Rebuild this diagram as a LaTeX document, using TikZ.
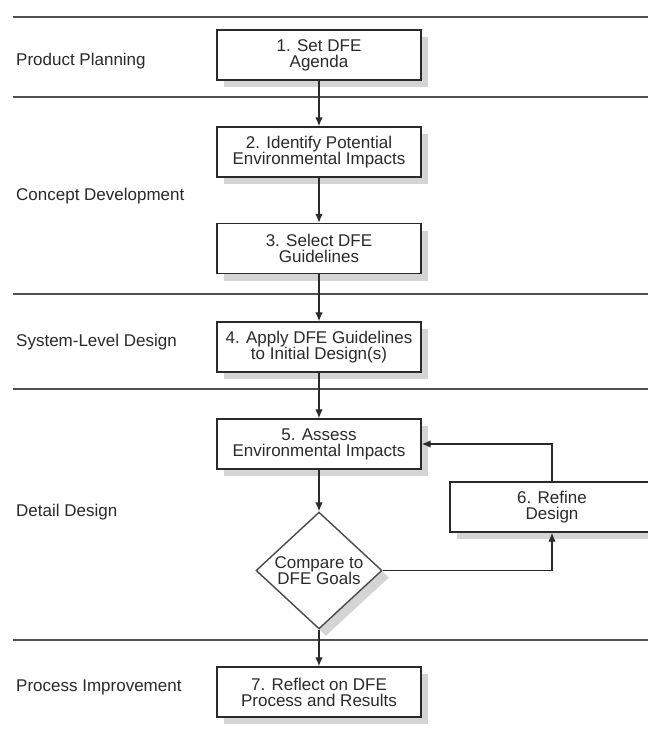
\documentclass[tikz,border=0pt]{standalone}
\usepackage{fontspec}
\setmainfont{Liberation Sans}
\usetikzlibrary{shapes.geometric,shadows,arrows.meta}
\definecolor{ink}{HTML}{2A2A2A}
\definecolor{rulec}{HTML}{505050}
\definecolor{shade}{HTML}{D4D4D4}
\begin{document}
\begin{tikzpicture}[x=1pt,y=-1pt,
  font=\fontsize{17}{16}\selectfont,
  myshadow/.style={drop shadow={shadow xshift=7pt, shadow yshift=-7pt, fill=shade, opacity=1}},
  stepbox/.style={draw=ink, line width=1.4pt, fill=white, minimum width=204pt, minimum height=50pt,
    align=center, inner sep=2pt, text=ink, myshadow},
  decbox/.style={shape=diamond, draw=ink!85, line width=1.4pt, fill=white, minimum width=126pt,
    minimum height=107pt, inner sep=0pt, align=center, text=ink, myshadow},
  lab/.style={anchor=west, text=ink, inner sep=0pt},
  rulestyle/.style={draw=rulec, line width=1.3pt},
  arr/.style={draw=ink, line width=1.3pt, -{Latex[length=9pt,width=7.5pt]}}]
\useasboundingbox (0,0) rectangle (648,729);
\clip (0,0) rectangle (648,729);
\fill[white] (0,0) rectangle (648,729);
% phase rules
\draw[rulestyle] (13,17) -- (648,17);
\draw[rulestyle] (13,97) -- (648,97);
\draw[rulestyle] (13,294) -- (648,294);
\draw[rulestyle] (13,389) -- (648,389);
\draw[rulestyle] (13,640) -- (648,640);
% phase labels
\node[lab] (l1) at (16,61) {Product Planning};
\node[lab] (l2) at (16,196) {Concept Development};
\node[lab] (l3) at (16,342) {System-Level Design};
\node[lab] (l4) at (16,512) {Detail Design};
\node[lab] (l5) at (16,687) {Process Improvement};
% steps
\node[stepbox] (b1) at (319,55) {1. Set DFE\\Agenda};
\node[stepbox] (b2) at (319,152) {2. Identify Potential\\Environmental Impacts};
\node[stepbox] (b3) at (319,248.5) {3. Select DFE\\Guidelines};
\node[stepbox] (b4) at (319,347) {4. Apply DFE Guidelines\\to Initial Design(s)};
\node[stepbox] (b5) at (319,444) {5. Assess\\Environmental Impacts};
\node[stepbox] (b6) at (552,507) {6. Refine\\Design};
\node[decbox] (d) at (319,570.5) {Compare to\\DFE Goals};
\node[stepbox] (b7) at (319,692) {7. Reflect on DFE\\Process and Results};
% connectors
\draw[arr] (b1.south) -- (b2.north);
\draw[arr] (b2.south) -- (b3.north);
\draw[arr] (b3.south) -- (b4.north);
\draw[arr] (b4.south) -- (b5.north);
\draw[arr] (b5.south) -- (d.north);
\draw[arr] (d.south) -- (b7.north);
\draw[arr] (d.east) -- (d.east -| b6.south) -- (b6.south);
\draw[arr] (b6.north) -- (b6.north |- b5.east) -- (b5.east);
\end{tikzpicture}
\end{document}
